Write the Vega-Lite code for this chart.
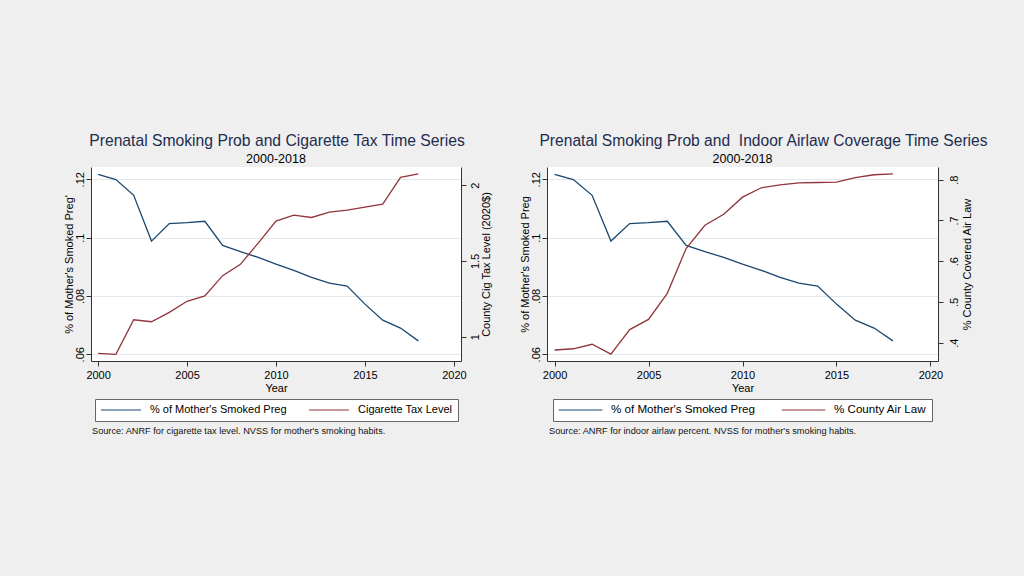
{
  "$schema": "https://vega.github.io/schema/vega-lite/v6.json",
  "background": "#efefef",
  "padding": {"left": 62, "top": 132, "right": 37, "bottom": 142},
  "config": {
    "font": "Liberation Sans",
    "view": {"stroke": null, "fill": "white"},
    "axis": {"labelColor": "black", "titleColor": "black", "titleFontWeight": "normal", "domainColor": "#333333", "tickColor": "#333333", "labelFontSize": 11, "titleFontSize": 11, "tickSize": 5, "labelFont": "Liberation Sans", "titleFont": "Liberation Sans"},
    "legend": {"layout": {"bottom": {"anchor": "middle"}}},
    "title": {"font": "Liberation Sans", "fontWeight": "normal"}
  },
  "datasets": {
    "ts": [
      {"year": 2000, "smoke": 0.1217, "tax": 0.890, "air": 0.382},
      {"year": 2001, "smoke": 0.1199, "tax": 0.884, "air": 0.385},
      {"year": 2002, "smoke": 0.1145, "tax": 1.112, "air": 0.396},
      {"year": 2003, "smoke": 0.0988, "tax": 1.099, "air": 0.372},
      {"year": 2004, "smoke": 0.1048, "tax": 1.161, "air": 0.432},
      {"year": 2005, "smoke": 0.1051, "tax": 1.234, "air": 0.457},
      {"year": 2006, "smoke": 0.1056, "tax": 1.269, "air": 0.521},
      {"year": 2007, "smoke": 0.0973, "tax": 1.403, "air": 0.631},
      {"year": 2008, "smoke": 0.0952, "tax": 1.478, "air": 0.688},
      {"year": 2009, "smoke": 0.0932, "tax": 1.618, "air": 0.715},
      {"year": 2010, "smoke": 0.0909, "tax": 1.763, "air": 0.757},
      {"year": 2011, "smoke": 0.0888, "tax": 1.802, "air": 0.780},
      {"year": 2012, "smoke": 0.0864, "tax": 1.787, "air": 0.787},
      {"year": 2013, "smoke": 0.0844, "tax": 1.822, "air": 0.792},
      {"year": 2014, "smoke": 0.0834, "tax": 1.835, "air": 0.793},
      {"year": 2015, "smoke": 0.0772, "tax": 1.855, "air": 0.794},
      {"year": 2016, "smoke": 0.0717, "tax": 1.875, "air": 0.805},
      {"year": 2017, "smoke": 0.0690, "tax": 2.051, "air": 0.812},
      {"year": 2018, "smoke": 0.0646, "tax": 2.075, "air": 0.814}
    ]
  },
  "spacing": 27,
  "resolve": {"scale": {"color": "independent"}, "legend": {"color": "independent"}},
  "hconcat": [
    {
      "title": {"text": "Prenatal Smoking Prob and Cigarette Tax Time Series", "fontSize": 15.7, "color": "#1e2c4f", "anchor": "middle", "offset": 3},
      "vconcat": [
        {
          "title": {"text": "Source: ANRF for cigarette tax level. NVSS for mother's smoking habits.", "orient": "bottom", "anchor": "start", "fontSize": 9.2, "color": "#111111", "dx": 29, "offset": 5},
          "resolve": {"scale": {"color": "independent"}, "legend": {"color": "independent"}},
          "vconcat": [
            {
              "title": {"text": "2000-2018", "fontSize": 12.5, "color": "black", "anchor": "middle", "frame": "group", "offset": 2},
              "width": 370,
              "height": 194,
              "data": {"name": "ts"},
              "resolve": {"scale": {"y": "independent"}},
              "layer": [
                {
                  "mark": {"type": "line", "strokeWidth": 1.3},
                  "encoding": {
                    "x": {"field": "year", "type": "quantitative", "scale": {"domain": [1999.6, 2020.4], "nice": false, "zero": false},
                      "axis": {"values": [2000, 2005, 2010, 2015, 2020], "format": "d", "title": "Year", "labelPadding": 3, "titlePadding": 2, "grid": false}},
                    "y": {"field": "smoke", "type": "quantitative", "scale": {"domain": [0.0577, 0.1242], "nice": false, "zero": false},
                      "axis": {"orient": "left", "values": [0.06, 0.08, 0.1, 0.12], "labelExpr": "datum.value < 1 ? substring(toString(datum.value), 1) : toString(datum.value)", "labelAngle": 270, "labelAlign": "center", "labelBaseline": "bottom", "labelPadding": 1, "title": "% of Mother's Smoked Preg'", "titlePadding": 0, "grid": true, "gridColor": "#e3e8ea"}},
                    "color": {"datum": "% of Mother's Smoked Preg", "type": "nominal",
                      "scale": {"domain": ["% of Mother's Smoked Preg", "Cigarette Tax Level"], "range": ["#1a476f", "#90353b"]},
                      "legend": {"orient": "bottom", "direction": "horizontal", "title": null, "symbolType": "stroke", "symbolSize": 1600, "symbolStrokeWidth": 1.2, "clipHeight": 12, "labelFontSize": 11, "labelColor": "black", "labelOffset": 8, "columnPadding": 21, "padding": 5, "offset": 6, "strokeColor": "#666666", "fillColor": "white", "cornerRadius": 0}}
                  }
                },
                {
                  "mark": {"type": "line", "strokeWidth": 1.3},
                  "encoding": {
                    "x": {"field": "year", "type": "quantitative", "scale": {"domain": [1999.6, 2020.4], "nice": false, "zero": false},
                      "axis": {"values": [2000, 2005, 2010, 2015, 2020], "format": "d", "title": "Year", "labelPadding": 3, "titlePadding": 2, "grid": false}},
                    "y": {"field": "tax", "type": "quantitative", "scale": {"domain": [0.84, 2.12], "nice": false, "zero": false},
                      "axis": {"orient": "right", "values": [1, 1.5, 2], "labelExpr": "toString(datum.value)", "labelAngle": 270, "labelAlign": "center", "labelBaseline": "top", "labelPadding": 3, "title": "County Cig Tax Level (2020$)", "titleAngle": 270, "titleBaseline": "top", "titlePadding": 0, "grid": false}},
                    "color": {"datum": "Cigarette Tax Level", "type": "nominal"}
                  }
                }
              ]
            }
          ]
        }
      ]
    },
    {
      "title": {"text": "Prenatal Smoking Prob and\u00a0 Indoor Airlaw Coverage Time Series", "fontSize": 15.6, "color": "#1e2c4f", "anchor": "middle", "offset": 3, "dx": 18},
      "vconcat": [
        {
          "title": {"text": "Source: ANRF for indoor airlaw percent. NVSS for mother's smoking habits.", "orient": "bottom", "anchor": "start", "fontSize": 9.2, "color": "#111111", "dx": 30, "offset": 5},
          "resolve": {"scale": {"color": "independent"}, "legend": {"color": "independent"}},
          "vconcat": [
            {
              "title": {"text": "2000-2018", "fontSize": 12.5, "color": "black", "anchor": "middle", "frame": "group", "offset": 2},
              "width": 391,
              "height": 194,
              "data": {"name": "ts"},
              "resolve": {"scale": {"y": "independent"}},
              "layer": [
                {
                  "mark": {"type": "line", "strokeWidth": 1.3},
                  "encoding": {
                    "x": {"field": "year", "type": "quantitative", "scale": {"domain": [1999.6, 2020.4], "nice": false, "zero": false},
                      "axis": {"values": [2000, 2005, 2010, 2015, 2020], "format": "d", "title": "Year", "labelPadding": 3, "titlePadding": 2, "grid": false}},
                    "y": {"field": "smoke", "type": "quantitative", "scale": {"domain": [0.0577, 0.1242], "nice": false, "zero": false},
                      "axis": {"orient": "left", "values": [0.06, 0.08, 0.1, 0.12], "labelExpr": "datum.value < 1 ? substring(toString(datum.value), 1) : toString(datum.value)", "labelAngle": 270, "labelAlign": "center", "labelBaseline": "bottom", "labelPadding": 1, "title": "% of Mother's Smoked Preg", "titlePadding": 0, "grid": true, "gridColor": "#e3e8ea"}},
                    "color": {"datum": "% of Mother's Smoked Preg", "type": "nominal",
                      "scale": {"domain": ["% of Mother's Smoked Preg", "% County Air Law"], "range": ["#1a476f", "#90353b"]},
                      "legend": {"orient": "bottom", "direction": "horizontal", "title": null, "symbolType": "stroke", "symbolSize": 1909, "symbolStrokeWidth": 1.2, "clipHeight": 12, "labelFontSize": 11.6, "labelColor": "black", "labelOffset": 8, "columnPadding": 26, "padding": 5, "offset": 6, "strokeColor": "#666666", "fillColor": "white", "cornerRadius": 0}}
                  }
                },
                {
                  "mark": {"type": "line", "strokeWidth": 1.3},
                  "encoding": {
                    "x": {"field": "year", "type": "quantitative", "scale": {"domain": [1999.6, 2020.4], "nice": false, "zero": false},
                      "axis": {"values": [2000, 2005, 2010, 2015, 2020], "format": "d", "title": "Year", "labelPadding": 3, "titlePadding": 2, "grid": false}},
                    "y": {"field": "air", "type": "quantitative", "scale": {"domain": [0.355, 0.831], "nice": false, "zero": false},
                      "axis": {"orient": "right", "values": [0.4, 0.5, 0.6, 0.7, 0.8], "labelExpr": "datum.value < 1 ? substring(toString(datum.value), 1) : toString(datum.value)", "labelAngle": 270, "labelAlign": "center", "labelBaseline": "top", "labelPadding": 5, "title": "% County Covered Air Law", "titleAngle": 270, "titleBaseline": "top", "titlePadding": 2, "grid": false}},
                    "color": {"datum": "% County Air Law", "type": "nominal"}
                  }
                }
              ]
            }
          ]
        }
      ]
    }
  ]
}
